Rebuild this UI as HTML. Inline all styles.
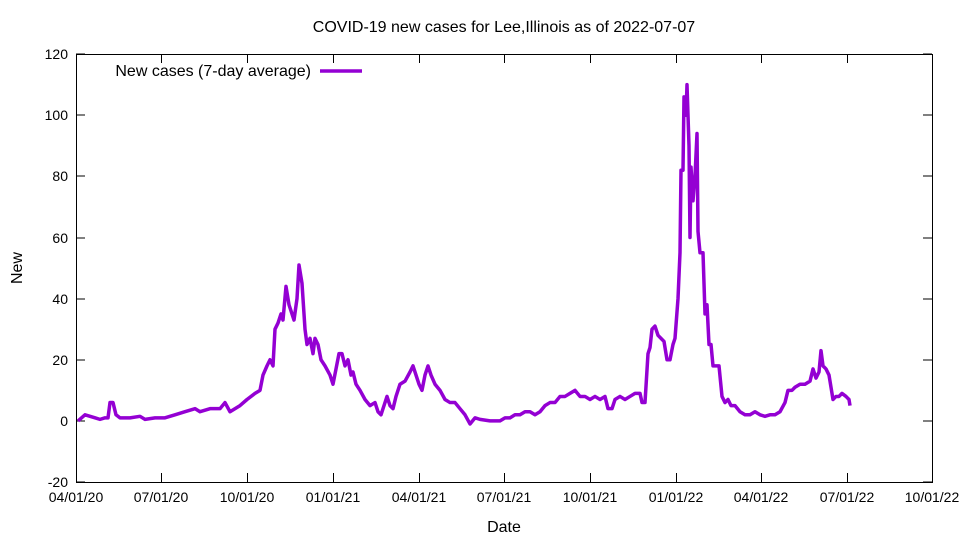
<!DOCTYPE html>
<html><head><meta charset="utf-8"><style>
body{margin:0;background:#fff}
svg text{font-family:"Liberation Sans",sans-serif;font-size:14px;fill:#000}
svg text.big{font-size:16px}
</style></head><body>
<svg width="960" height="540" viewBox="0 0 960 540" xmlns="http://www.w3.org/2000/svg">
<rect width="960" height="540" fill="#fff"/>
<text class="big" x="504" y="32" text-anchor="middle">COVID-19 new cases for Lee,Illinois as of 2022-07-07</text>
<rect x="76.5" y="54.5" width="856" height="428" fill="none" stroke="#000" stroke-width="1"/>
<g stroke="#000" stroke-width="1">
<path d="M76 421h9M932 421h-9M76 360h9M932 360h-9M76 299h9M932 299h-9M76 238h9M932 238h-9M76 176h9M932 176h-9M76 115h9M932 115h-9M76 482h9M932 482h-9M76 54h9M932 54h-9"/>
<path d="M161.5 482v-9M161.5 54v9M247.5 482v-9M247.5 54v9M333.5 482v-9M333.5 54v9M419.5 482v-9M419.5 54v9M504.5 482v-9M504.5 54v9M590.5 482v-9M590.5 54v9M676.5 482v-9M676.5 54v9M761.5 482v-9M761.5 54v9M847.5 482v-9M847.5 54v9"/>
</g>
<g text-anchor="end" style="font-size:15px">
<text x="68" y="59">120</text><text x="68" y="120">100</text><text x="68" y="181">80</text>
<text x="68" y="243">60</text><text x="68" y="304">40</text><text x="68" y="365">20</text>
<text x="68" y="426">0</text><text x="68" y="487">-20</text>
</g>
<g text-anchor="middle">
<text x="76" y="502">04/01/20</text><text x="161" y="502">07/01/20</text><text x="247" y="502">10/01/20</text>
<text x="333" y="502">01/01/21</text><text x="419" y="502">04/01/21</text><text x="504" y="502">07/01/21</text>
<text x="590" y="502">10/01/21</text><text x="676" y="502">01/01/22</text><text x="761" y="502">04/01/22</text>
<text x="847" y="502">07/01/22</text><text x="932" y="502">10/01/22</text>
<text class="big" x="504" y="532">Date</text>
</g>
<text class="big" x="22" y="268" text-anchor="middle" transform="rotate(-90 22 268)">New</text>
<text class="big" x="311" y="76" text-anchor="end">New cases (7-day average)</text>
<line x1="320" y1="71" x2="362" y2="71" stroke="#9400d3" stroke-width="3.5"/>
<g transform="translate(0,420.9) scale(1,-3.057)">
<polyline fill="none" stroke="#9400d3" stroke-width="3.5" vector-effect="non-scaling-stroke" stroke-linejoin="round" points="78,0 85,2 95,1 100,0.5 105,1 108,1 110,6 113,6 116,2 120,1 130,1 140,1.5 145,0.5 155,1 165,1 175,2 185,3 195,4 200,3 210,4 220,4 225,6 230,3 240,5 247,7 255,9 260,10 263,15 267,18 270,20 273,18 275,30 278,32 281,35 283,33 286,44 289,38 292,35 294,33 297,40 299,51 302,45 305,30 307,25 310,27 313,22 315,27 318,25 321,20 325,18 330,15 333,12 336,17 339,22 342,22 345,18 348,20 351,15 353,16 356,12 360,10 365,7 370,5 375,6 378,3 381,2 384,5 387,8 390,5 393,4 396,8 400,12 405,13 410,16 413,18 416,15 419,12 422,10 425,15 428,18 431,15 435,12 440,10 445,7 450,6 455,6 460,4 465,2 470,-1 475,1 480,0.5 490,0 500,0 505,1 510,1 515,2 520,2 525,3 530,3 535,2 540,3 545,5 550,6 555,6 560,8 565,8 570,9 575,10 580,8 585,8 590,7 595,8 600,7 605,8 608,4 612,4 615,7 620,8 625,7 630,8 635,9 640,9 642,6 645,6 648,22 650,24 652,30 655,31 658,28 661,27 664,26 667,20 670,20 673,25 675,27 678,40 680,55 681,82 683,82 684,106 686,100 687,110 689,90 690,60 691,83 693,72 695,80 697,94 698,62 700,55 703,55 705,35 707,38 709,25 711,25 713,18 716,18 719,18 722,8 725,6 728,7 731,5 735,5 740,3 745,2 750,2 755,3 760,2 765,1.5 770,2 775,2 780,3 785,6 788,10 792,10 795,11 800,12 805,12 810,13 813,17 816,14 819,16 821,23 823,18 826,17 829,15 833,7 836,8 839,8 842,9 846,8 849,7 850,5"/>
</g>
</svg>
</body></html>
